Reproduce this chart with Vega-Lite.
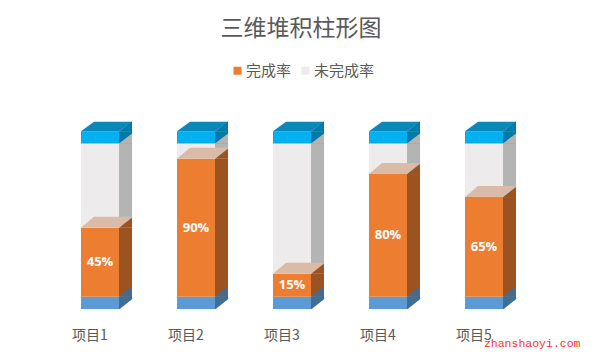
{
  "$schema": "https://vega.github.io/schema/vega-lite/v6.json",
  "autosize": {"type": "none"},
  "padding": {"left": 52, "top": 125, "right": 69, "bottom": 52},
  "width": 480,
  "height": 184,
  "background": "white",
  "title": {
    "text": "三维堆积柱形图",
    "font": "Noto Sans CJK SC",
    "fontSize": 23,
    "fontWeight": "normal",
    "color": "#595959",
    "anchor": "middle",
    "frame": "group",
    "dx": 9,
    "offset": 22
  },
  "data": {
    "values": [
      {"project": "项目1", "series": "底座", "value": 8},
      {"project": "项目1", "series": "完成率", "value": 45},
      {"project": "项目1", "series": "未完成率", "value": 55},
      {"project": "项目1", "series": "顶", "value": 8},
      {"project": "项目2", "series": "底座", "value": 8},
      {"project": "项目2", "series": "完成率", "value": 90},
      {"project": "项目2", "series": "未完成率", "value": 10},
      {"project": "项目2", "series": "顶", "value": 8},
      {"project": "项目3", "series": "底座", "value": 8},
      {"project": "项目3", "series": "完成率", "value": 15},
      {"project": "项目3", "series": "未完成率", "value": 85},
      {"project": "项目3", "series": "顶", "value": 8},
      {"project": "项目4", "series": "底座", "value": 8},
      {"project": "项目4", "series": "完成率", "value": 80},
      {"project": "项目4", "series": "未完成率", "value": 20},
      {"project": "项目4", "series": "顶", "value": 8},
      {"project": "项目5", "series": "底座", "value": 8},
      {"project": "项目5", "series": "完成率", "value": 65},
      {"project": "项目5", "series": "未完成率", "value": 35},
      {"project": "项目5", "series": "顶", "value": 8}
    ]
  },
  "transform": [
    {"calculate": "indexof(['底座','完成率','未完成率','顶'], datum.series)", "as": "ord"},
    {"stack": "value", "groupby": ["project"], "sort": [{"field": "ord", "order": "ascending"}], "as": ["y0", "y1"]},
    {"calculate": "(datum.y0 + datum.y1) / 2", "as": "ymid"},
    {"calculate": "datum.value + '%'", "as": "label"}
  ],
  "encoding": {
    "x": {
      "field": "project",
      "type": "nominal",
      "sort": ["项目1", "项目2", "项目3", "项目4", "项目5"],
      "scale": {"paddingInner": 0, "paddingOuter": 0},
      "axis": {
        "title": "zhanshaoyi.com",
        "titleFont": "Liberation Mono",
        "titleFontSize": 11.5,
        "titleFontWeight": "normal",
        "titleColor": "#ff3030",
        "titleAnchor": "end",
        "titleAlign": "right",
        "titleBaseline": "alphabetic",
        "titleX": 528,
        "titleY": 37,
        "labelAngle": 0,
        "labelFont": "Noto Sans CJK SC",
        "labelFontSize": 14,
        "labelColor": "#595959",
        "labelOffset": -10,
        "labelPadding": 19,
        "domain": false,
        "ticks": false,
        "grid": false
      }
    },
    "y": {
      "field": "y1",
      "type": "quantitative",
      "scale": {"domain": [0, 120], "nice": false, "zero": true},
      "axis": null
    }
  },
  "layer": [
    {
      "mark": {"type": "bar", "width": 13, "xOffset": 25.5},
      "encoding": {
        "y2": {"field": "y0"},
        "fill": {
          "condition": [
            {"test": "datum.series === '底座'", "value": "#3e6d98"},
            {"test": "datum.series === '完成率'", "value": "#9c5322"},
            {"test": "datum.series === '未完成率'", "value": "#b4b4b4"}
          ],
          "value": "#007aa9"
        }
      }
    },
    {
      "mark": {"type": "point", "shape": "M 19 0 L 32 0 L 32 -10 Z", "size": 4, "filled": true, "opacity": 1, "strokeWidth": 0},
      "encoding": {
        "fill": {
          "condition": [
            {"test": "datum.series === '底座'", "value": "#3e6d98"},
            {"test": "datum.series === '完成率'", "value": "#9c5322"},
            {"test": "datum.series === '未完成率'", "value": "#b4b4b4"}
          ],
          "value": "#007aa9"
        }
      }
    },
    {
      "transform": [{"filter": "datum.series === '底座'"}],
      "mark": {"type": "point", "shape": "M 19 0.5 L 33 0.5 L 33 -10.5 Z", "size": 4, "filled": true, "opacity": 1, "strokeWidth": 0, "fill": "white"},
      "encoding": {"y": {"field": "y0", "type": "quantitative"}}
    },
    {
      "mark": {"type": "bar", "width": 38},
      "encoding": {
        "y2": {"field": "y0"},
        "color": {
          "field": "series",
          "type": "nominal",
          "scale": {
            "domain": ["完成率", "未完成率", "底座", "顶"],
            "range": ["#ed7d31", "#edebeb", "#5b9bd5", "#00b0f0"]
          },
          "legend": {
            "values": ["完成率", "未完成率"],
            "title": null,
            "orient": "none",
            "direction": "horizontal",
            "legendX": 178,
            "legendY": -62,
            "symbolType": "square",
            "symbolSize": 64,
            "symbolStrokeWidth": 0,
            "labelFont": "Noto Sans CJK SC",
            "labelFontSize": 15,
            "labelColor": "#595959",
            "labelOffset": 1,
            "columnPadding": 6
          }
        }
      }
    },
    {
      "transform": [{"filter": "datum.series === '完成率'"}],
      "mark": {"type": "point", "shape": "M -19 0 L 19 0 L 32 -11 L -6 -11 Z", "size": 4, "filled": true, "opacity": 1, "strokeWidth": 0, "fill": "#d9bba8"}
    },
    {
      "transform": [{"filter": "datum.series === '顶'"}],
      "mark": {"type": "point", "shape": "M -19 0 L 19 0 L 32 -9.5 L -6 -9.5 Z", "size": 4, "filled": true, "opacity": 1, "strokeWidth": 0, "fill": "#0a88b9"}
    },
    {
      "transform": [{"filter": "datum.series === '完成率'"}],
      "mark": {"type": "text", "color": "white", "font": "Open Sans", "fontWeight": "bold", "fontSize": 13, "baseline": "middle", "align": "center"},
      "encoding": {
        "y": {"field": "ymid", "type": "quantitative"},
        "text": {"field": "label"}
      }
    }
  ],
  "config": {"view": {"stroke": null}}
}
